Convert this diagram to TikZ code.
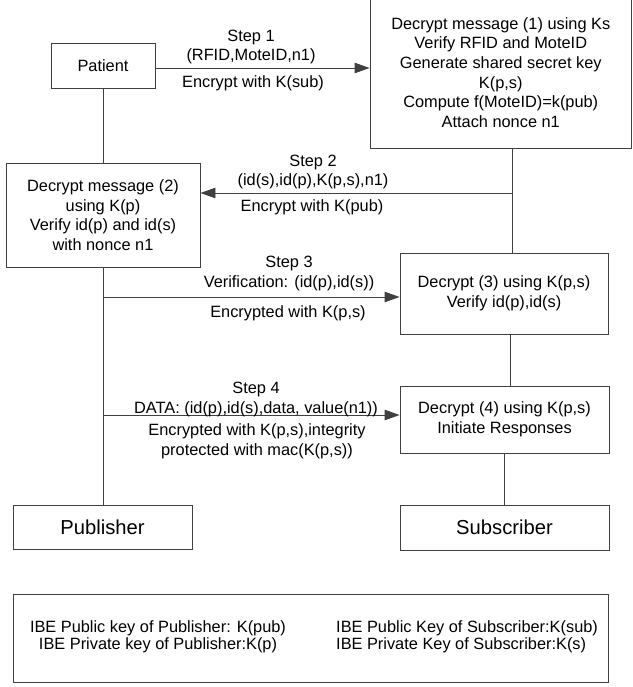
\documentclass[tikz,border=0pt]{standalone}
\usepackage{fontspec}
\setmainfont{Liberation Sans}
\usetikzlibrary{arrows.meta}
\newcommand\mainfs{\fontsize{16.35}{19.6}\selectfont}
\newcommand\bigfs{\fontsize{20.2}{24}\selectfont}
\newcommand\legfs{\fontsize{16.35}{16.8}\selectfont}
\begin{document}
\begin{tikzpicture}[x=1pt,y=-1pt,
  line/.style={draw=black!75, line width=0.9pt},
  box/.style={line, rectangle, inner sep=0pt, align=center, font=\mainfs},
  arr/.style={line, -{Triangle[length=15pt,width=10.5pt]}},
  lab/.style={inner sep=0pt, align=center, font=\mainfs}]
\useasboundingbox[fill=white] (0,0) rectangle (632,687);

% boxes
\node[box, minimum width=104pt, minimum height=44.5pt] (pat) at (103,65.75) {Patient};
\node[box, minimum width=261.5pt, minimum height=151pt] (tb) at (500.75,72.5)
  {Decrypt message (1) using Ks\\Verify RFID and MoteID\\Generate shared secret key\\K(p,s)\\Compute f(MoteID)=k(pub)\\Attach nonce n1};
\node[box, minimum width=194pt, minimum height=104pt] (b2) at (103,215)
  {Decrypt message (2)\\using K(p)\\Verify id(p) and id(s)\\with nonce n1};
\node[box, minimum width=208pt, minimum height=81pt] (b3) at (504,293.5)
  {Decrypt (3) using K(p,s)\\Verify id(p),id(s)};
\node[box, minimum width=209pt, minimum height=67pt] (b4) at (504.5,419.5)
  {Decrypt (4) using K(p,s)\\Initiate Responses};
\node[box, font=\bigfs, minimum width=179pt, minimum height=44pt] (pub) at (102.5,527) {Publisher};
\node[box, font=\bigfs, minimum width=209pt, minimum height=45pt] (sub) at (504.5,527.5) {Subscriber};
\node[box, minimum width=595pt, minimum height=88pt] (leg) at (310.5,638) {};
\node[lab, font=\legfs] (legL) at (158,636.5)
  {IBE Public key of Publisher: K(pub)\\IBE Private key of Publisher:K(p)};
\node[lab, font=\legfs, align=left, anchor=west] (legR) at (336,636.5)
  {IBE Public Key of Subscriber:K(sub)\\IBE Private Key of Subscriber:K(s)};

% helper coordinates
\coordinate (v1) at (512,0);
\coordinate (v2) at (510,0);
\coordinate (s2) at (512,193);
\coordinate (s3) at (103,297);
\coordinate (s4) at (103,415);

% connectors
\draw[arr] ([yshift=-2.25pt]pat.east) -- ([yshift=-2.25pt]pat.east -| tb.west);
\draw[line] (pat.south) -- (b2.north);
\draw[line] (v1 |- tb.south) -- (v1 |- b3.north);
\draw[arr] (s2) -- (s2 -| b2.east);
\draw[line] (b2.south) -- (b2.south |- pub.north);
\draw[arr] (s3) -- (s3 -| b3.west);
\draw[arr] (s4) -- (s4 -| b4.west);
\draw[line] (v2 |- b3.south) -- (v2 |- b4.north);
\draw[line] (b4.south) -- (sub.north);

% labels
\node[lab] (l1a) at (251,47) {Step 1\\(RFID,MoteID,n1)};
\node[lab] (l1b) at (253,83) {Encrypt with K(sub)};
\node[lab] (l2a) at (313,172) {Step 2\\(id(s),id(p),K(p,s),n1)};
\node[lab] (l2b) at (312,207) {Encrypt with K(pub)};
\node[lab] (l3a) at (289,273.5) {Step 3\\Verification: (id(p),id(s))};
\node[lab] (l3b) at (288,313) {Encrypted with K(p,s)};
\node[lab] (l4a) at (256,399.5) {Step 4\\DATA: (id(p),id(s),data, value(n1))};
\node[lab] (l4b) at (257,441) {Encrypted with K(p,s),integrity\\protected with mac(K(p,s))};
\end{tikzpicture}
\end{document}
